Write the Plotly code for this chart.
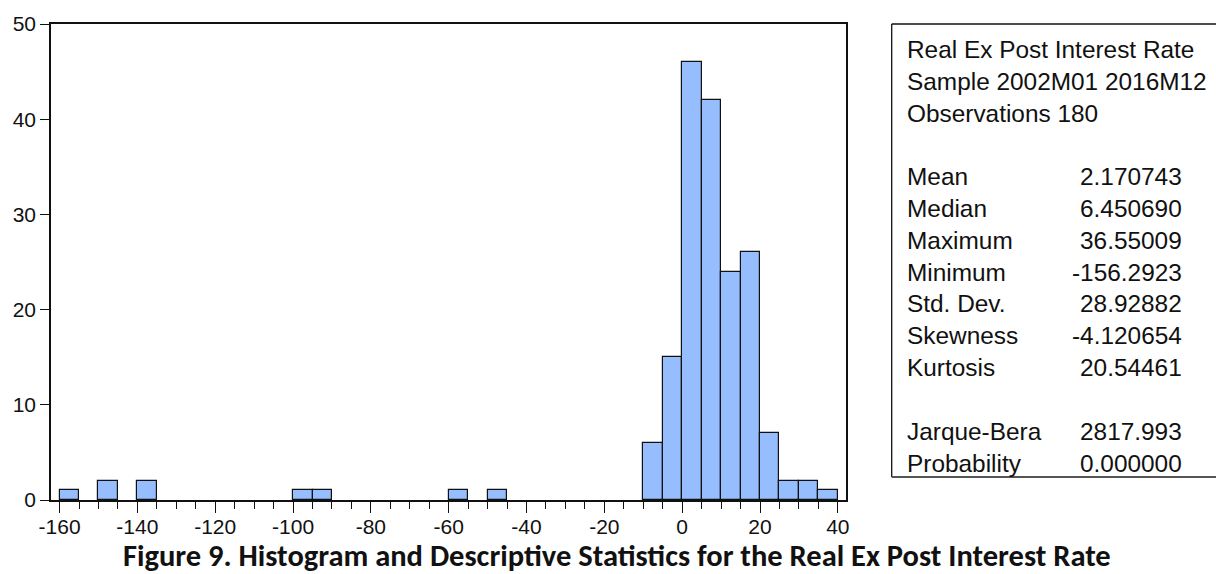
import plotly.graph_objects as go

# ---- data ----
bin_starts = [-160, -150, -140, -100, -95, -60, -50, -10, -5, 0, 5, 10, 15, 20, 25, 30, 35]
counts     = [1,     2,    2,    1,    1,   1,   1,   6,  15, 46, 42, 24, 26, 7,  2,  2,  1]
bin_width = 5

x_tick_vals = [-160, -140, -120, -100, -80, -60, -40, -20, 0, 20, 40]
x_tick_text = ["-160", "-140", "-120", "-100", "-80", "-60", "-40", "-20", "0", "20", "40"]
y_tick_vals = [0, 10, 20, 30, 40, 50]

stat_title = ["Real Ex Post Interest Rate", "Sample 2002M01 2016M12", "Observations 180"]
stat_names = ["Mean", "Median", "Maximum", "Minimum", "Std. Dev.", "Skewness", "Kurtosis"]
stat_values = ["2.170743", "6.450690", "36.55009", "-156.2923", "28.92882", "-4.120654", "20.54461"]
test_names = ["Jarque-Bera", "Probability"]
test_values = ["2817.993", "0.000000"]
caption = "Figure 9. Histogram and Descriptive Statistics for the Real Ex Post Interest Rate"

# ---- layout geometry ----
W, H = 1216, 574
L, R, T, B = 51, 370, 22, 74
PW, PH = W - L - R, H - T - B

def px(x):
    return (x - L) / PW

def py(y):
    return (H - B - y) / PH

fig = go.Figure()
fig.add_trace(go.Bar(
    x=[s + bin_width / 2 for s in bin_starts],
    y=counts,
    width=bin_width,
    marker=dict(color="#96BEFF", line=dict(color="#111111", width=1.2)),
    hoverinfo="x+y",
))

tick_font = dict(family="Liberation Sans, Arial, sans-serif", size=21, color="#111111")

fig.update_layout(
    width=W, height=H,
    margin=dict(l=L, r=R, t=T, b=B),
    paper_bgcolor="white", plot_bgcolor="white",
    showlegend=False,
    bargap=0,
    xaxis=dict(
        range=[-162.2, 42.1],
        tickmode="array", tickvals=x_tick_vals, ticktext=x_tick_text,
        ticks="outside", ticklen=11, tickwidth=1.2, tickcolor="#111111",
        minor=dict(dtick=5, tick0=-160, ticks="outside", ticklen=7, tickwidth=1.2, tickcolor="#111111", showgrid=False),
        showgrid=False, zeroline=False,
        showline=True, linecolor="#111111", linewidth=1.5, mirror=True,
        tickfont=tick_font, ticklabelstandoff=-4,
    ),
    yaxis=dict(
        range=[0, 50],
        tickmode="array", tickvals=y_tick_vals,
        ticks="outside", ticklen=9, tickwidth=1.2, tickcolor="#111111",
        showgrid=False, zeroline=False,
        showline=True, linecolor="#111111", linewidth=1.5, mirror=True,
        tickfont=tick_font,
    ),
)

# stats box
box_l, box_t, box_b = 891.7, 22, 477
fig.add_shape(type="line", xref="paper", yref="paper", x0=px(box_l), x1=px(W + 5), y0=py(box_t), y1=py(box_t),
              line=dict(color="#111111", width=1.3))
fig.add_shape(type="line", xref="paper", yref="paper", x0=px(box_l), x1=px(box_l), y0=py(box_t), y1=py(box_b),
              line=dict(color="#111111", width=1.3))
fig.add_shape(type="line", xref="paper", yref="paper", x0=px(box_l), x1=px(W + 5), y0=py(box_b), y1=py(box_b),
              line=dict(color="#555555", width=2))

stat_font = dict(family="Liberation Sans, Arial, sans-serif", size=24.4, color="#111111")
text_x = 904.7
val_x = 1183.7
line0 = 47.5
step = 31.95

rows = []
for i, t in enumerate(stat_title):
    rows.append((i, t, None))
for j, (n, v) in enumerate(zip(stat_names, stat_values)):
    rows.append((4 + j, n, v))
for k, (n, v) in enumerate(zip(test_names, test_values)):
    rows.append((12 + k, n, v))

for idx, label, val in rows:
    yc = line0 + idx * step
    fig.add_annotation(xref="paper", yref="paper", x=px(text_x), y=py(yc), text=label,
                       showarrow=False, xanchor="left", yanchor="middle", font=stat_font)
    if val is not None:
        fig.add_annotation(xref="paper", yref="paper", x=px(val_x), y=py(yc), text=val,
                           showarrow=False, xanchor="right", yanchor="middle", font=stat_font)

fig.add_annotation(xref="paper", yref="paper", x=px(617), y=py(555.5), text="<b>" + caption + "</b>",
                   showarrow=False, xanchor="center", yanchor="middle", borderpad=0,
                   font=dict(family="Carlito, Calibri, Lato, sans-serif", size=30.5, color="#111111"))

fig.write_html("out.html", config={"displayModeBar": False},
               post_script="document.body.style.margin='0';document.body.style.overflow='hidden';")
